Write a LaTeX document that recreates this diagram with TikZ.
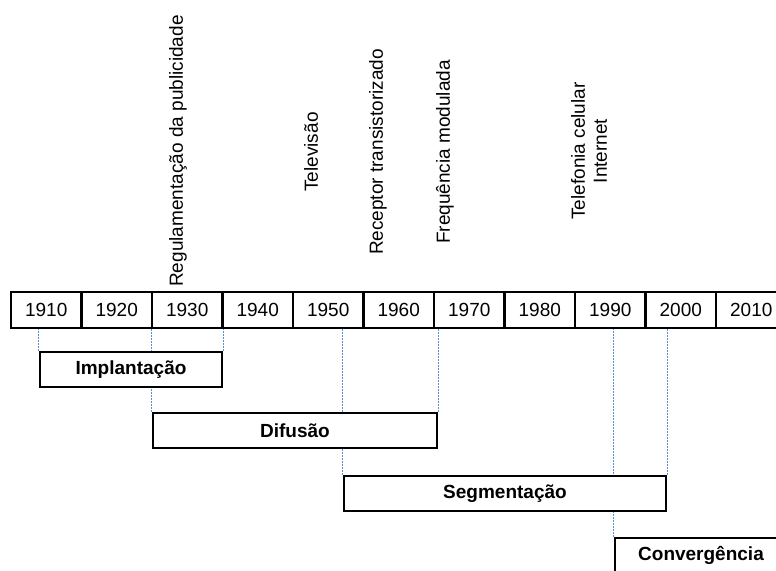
\documentclass[tikz,border=0pt]{standalone}
\usepackage{fontspec}
\setmainfont{Liberation Sans}
\usetikzlibrary{backgrounds}

\definecolor{guide}{RGB}{91,139,208}

\begin{document}
\begin{tikzpicture}[x=1pt, y=-1pt,
    font=\fontsize{19}{22}\selectfont,
    decade/.style={draw, line width=2.4pt, minimum width=70.5pt, minimum height=36pt, inner sep=0pt},
    phase/.style={draw, fill=white, line width=2.4pt, minimum height=35pt, inner sep=0pt, font=\fontsize{19}{22}\selectfont\bfseries},
    event/.style={rotate=90, anchor=center, align=center, inner sep=0pt},
    guideline/.style={guide, line width=0.8pt, dash pattern=on 1.5pt off 1.5pt}]
      \clip (0,0) rectangle (776,570);

      % decades
      \foreach \yr [count=\i from 0] in {1910,1920,...,2010}
        \node[decade] (y\yr) at (46.25+70.5*\i, 310) {\yr};

      % events
      \node[event] (reg)  at (178, 151) {Regulamentação da publicidade};
      \node[event] (tv)   at (311, 152) {Televisão};
      \node[event] (rec)  at (378, 152) {Receptor transistorizado};
      \node[event] (fm)   at (445, 152) {Frequência modulada};
      \node[event] (cel)  at (589, 151) {Telefonia celular\\Internet};

      % phases
      \node[phase, minimum width=182pt] (impl) at (131, 369.5) {Implantação};
      \node[phase, minimum width=284pt] (dif)  at (295, 430.5) {Difusão};
      \node[phase, minimum width=322pt] (seg)  at (505, 493.5) {Segmentação};
      \node[phase, minimum width=172pt] (conv) at (701, 555.5) {Convergência};

      \begin{scope}[on background layer]
        \draw[guideline] (impl.north west) -- (impl.north west |- y1910.south);
        \draw[guideline] (impl.north east) -- (impl.north east |- y1910.south);
        \draw[guideline] (dif.north west)  -- (dif.north west |- y1910.south);
        \draw[guideline] (dif.north east)  -- (dif.north east |- y1910.south);
        \draw[guideline] (seg.north west)  -- (seg.north west |- y1910.south);
        \draw[guideline] (seg.north east)  -- (seg.north east |- y1910.south);
        \draw[guideline] (conv.north west) -- (conv.north west |- y1910.south);
      \end{scope}
\end{tikzpicture}
\end{document}
